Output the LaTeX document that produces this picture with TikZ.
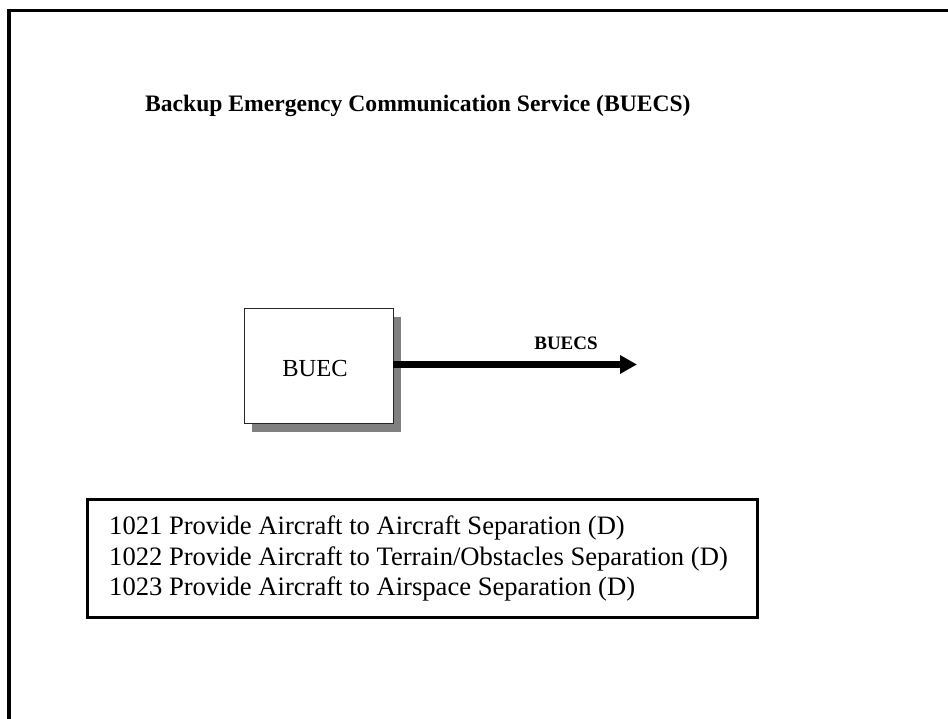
\documentclass[tikz,border=0pt]{standalone}
\usepackage{fontspec}
\setmainfont{Liberation Serif}
\usetikzlibrary{arrows.meta}
\begin{document}
\begin{tikzpicture}[x=1pt,y=-1pt,
  titlefont/.style={font=\bfseries\fontsize{23.6}{28}\selectfont},
  procbox/.style={draw=black!85, line width=1pt, fill=white, minimum width=149pt, minimum height=114pt, inner sep=0pt, outer sep=0pt},
  listbox/.style={draw=black, line width=3pt, minimum width=670pt, minimum height=118pt, inner sep=0pt, outer sep=0pt},
  listline/.style={anchor=base west, inner sep=0pt, font=\fontsize{26.6}{30}\selectfont},
  flow/.style={line width=6.5pt, -{Triangle[length=17pt, width=17.6pt]}}]
\useasboundingbox (0,0) rectangle (948,719);
% outer frame (clipped at right and bottom)
\draw[line width=3.5pt] (9,725) -- (9,10.5) -- (955,10.5);
% title
\node[titlefont, anchor=base west, inner sep=0pt] (title) at (145,112) {Backup Emergency Communication Service (BUECS)};
% shadow
\fill[gray] (252,317) rectangle (401,432);
% BUEC box
\node[procbox] (buec) at (318.5,366) {};
\node[anchor=base, inner sep=0pt, font=\fontsize{24.5}{28}\selectfont] (buect) at (315,377) {BUEC};
% arrow
\coordinate (tip) at (637,364.5);
\draw[flow] (buec.east |- tip) -- (tip);
\node[anchor=base, inner sep=0pt, font=\bfseries\fontsize{19}{22}\selectfont] (lbl) at (566,350) {BUECS};
% list box
\node[listbox] (list) at (422.5,558.5) {};
\node[listline] (l1) at (109,534) {1021 Provide Aircraft to Aircraft Separation (D)};
\node[listline] (l2) at (109,565) {1022 Provide Aircraft to Terrain/Obstacles Separation (D)};
\node[listline] (l3) at (109,595) {1023 Provide Aircraft to Airspace Separation (D)};
\end{tikzpicture}
\end{document}
